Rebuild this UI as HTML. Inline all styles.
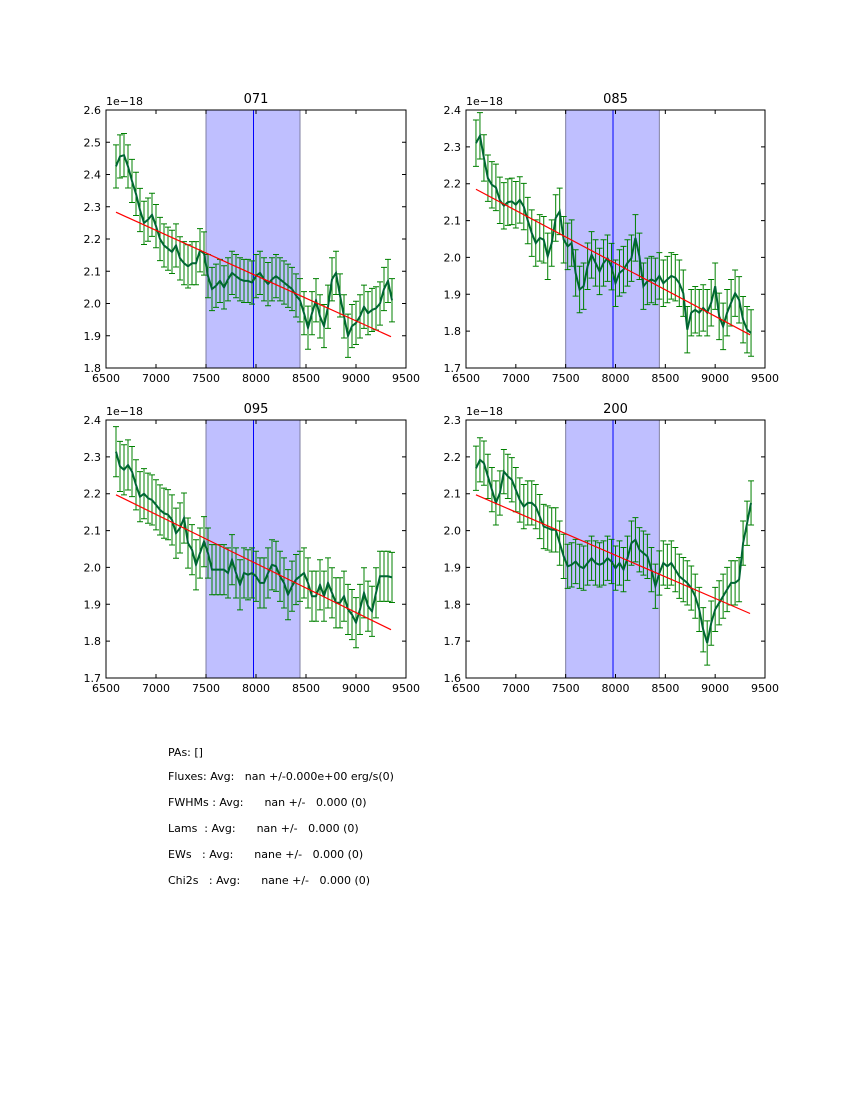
<!DOCTYPE html>
<html><head><meta charset="utf-8">
<style>
html,body{margin:0;padding:0;background:#fff;}
svg{display:block;font-family:"DejaVu Sans","Liberation Sans",sans-serif;}
.info{white-space:pre;font-size:11px;}
</style></head>
<body>
<svg id="fig" width="850" height="1100" viewBox="0 0 850 1100">
<rect width="850" height="1100" fill="#fff"/>
<g id="info">
<text class="info" x="168" y="756">PAs: []</text>
<text class="info" x="168" y="780">Fluxes: Avg:   nan +/-0.000e+00 erg/s(0)</text>
<text class="info" x="168" y="806">FWHMs : Avg:      nan +/-   0.000 (0)</text>
<text class="info" x="168" y="832">Lams  : Avg:      nan +/-   0.000 (0)</text>
<text class="info" x="168" y="858">EWs   : Avg:      nane +/-   0.000 (0)</text>
<text class="info" x="168" y="884">Chi2s   : Avg:      nane +/-   0.000 (0)</text>
</g>
</svg>
<script>
const lams = [];
for (let i = 0; i < 70; i++) lams.push(6600 + 40 * i);
const xTicks = [6500, 7000, 7500, 8000, 8500, 9000, 9500];
const titles = ["071", "085", "095", "200"];
const yMins = [1.8, 1.7, 1.7, 1.6];
const yMaxs = [2.6, 2.4, 2.4, 2.3];
const errs = [0.067, 0.063, 0.068, 0.06];
const fitStart = [2.283, 2.185, 2.197, 2.097];
const fitEnd = [1.897, 1.79, 1.831, 1.775];
const fitLams = [6600, 9350];
const bandLams = [7500, 8440];
const lineLam = 7975;
const flux071 = [2.425,2.456,2.46,2.425,2.38,2.34,2.29,2.25,2.26,2.275,2.24,2.2,2.18,2.17,2.16,2.18,2.14,2.125,2.115,2.125,2.125,2.165,2.155,2.085,2.045,2.055,2.07,2.05,2.075,2.095,2.085,2.075,2.07,2.07,2.065,2.085,2.095,2.075,2.06,2.075,2.085,2.075,2.065,2.055,2.045,2.025,2.01,1.97,1.925,1.97,2.01,1.96,1.93,1.99,2.075,2.095,2.025,1.96,1.9,1.93,1.94,1.96,1.99,1.97,1.98,1.985,2.0,2.045,2.07,2.01];
const flux085 = [2.31,2.33,2.27,2.215,2.197,2.19,2.155,2.14,2.15,2.152,2.143,2.156,2.138,2.1,2.066,2.039,2.053,2.048,2.003,2.039,2.107,2.125,2.048,2.03,2.039,1.958,1.913,1.922,1.976,2.007,1.985,1.962,1.985,1.998,1.975,1.93,1.958,1.967,1.985,1.998,2.053,2.003,1.922,1.935,1.94,1.935,1.95,1.93,1.94,1.95,1.945,1.93,1.903,1.804,1.85,1.858,1.85,1.863,1.85,1.877,1.922,1.84,1.813,1.85,1.877,1.903,1.885,1.831,1.804,1.795];
const flux095 = [2.314,2.274,2.265,2.278,2.26,2.224,2.192,2.2,2.188,2.183,2.17,2.156,2.147,2.143,2.129,2.093,2.107,2.134,2.066,2.048,2.007,2.039,2.07,2.039,1.994,1.994,1.994,1.994,1.985,2.021,1.985,1.953,1.985,1.98,1.985,1.976,1.958,1.958,1.985,2.007,2.003,1.976,1.958,1.926,1.949,1.967,1.976,1.985,1.958,1.922,1.922,1.953,1.922,1.958,1.931,1.904,1.904,1.922,1.886,1.872,1.85,1.886,1.931,1.895,1.881,1.931,1.976,1.976,1.976,1.973];
const flux200 = [2.169,2.192,2.183,2.147,2.111,2.075,2.102,2.16,2.147,2.138,2.111,2.083,2.065,2.075,2.075,2.065,2.038,2.011,2.007,2.002,2.002,1.966,1.93,1.903,1.907,1.916,1.903,1.898,1.912,1.925,1.912,1.907,1.912,1.925,1.916,1.898,1.912,1.894,1.925,1.966,1.975,1.948,1.939,1.93,1.894,1.849,1.885,1.912,1.903,1.912,1.894,1.876,1.867,1.858,1.844,1.822,1.786,1.731,1.695,1.749,1.786,1.804,1.822,1.84,1.858,1.858,1.867,1.966,2.02,2.075];
const fluxes = [flux071, flux085, flux095, flux200];

const NS = "http://www.w3.org/2000/svg";
const fig = document.getElementById("fig");
const boxes = [[106,110,406,368],[466,110,765,368],[106,420,406,678],[466,420,765,678]];
function mk(tag, attrs, parent) {
  const e = document.createElementNS(NS, tag);
  for (const k in attrs) e.setAttribute(k, attrs[k]);
  parent.appendChild(e);
  return e;
}
boxes.forEach((b, p) => {
  const [x0, y0, x1, y1] = b;
  const g = mk("g", {}, fig);
  
  
  const sx = v => x0 + (v - 6500) / 3000 * (x1 - x0);
  const sy = v => y1 - (v - yMins[p]) / (yMaxs[p] - yMins[p]) * (y1 - y0);
  const band = mk("rect", {x: sx(bandLams[0]), y: y0, width: sx(bandLams[1]) - sx(bandLams[0]), height: y1 - y0, fill: "#bfbfff", stroke: "#7f7fa0", "stroke-width": 1}, g);
  
  
  const vl = mk("line", {x1: sx(lineLam), x2: sx(lineLam), y1: y0, y2: y1, stroke: "#0000ff", "stroke-width": 1}, g);
  
  
  const data = fluxes[p];
  const eg = mk("g", {stroke: "#008000", "stroke-width": 1}, g);
  
  
  data.forEach((v, i) => {
    const x = sx(lams[i]), ya = sy(v + errs[p]), yb = sy(v - errs[p]);
    const l = mk("path", {d: `M${x},${ya}V${yb}M${x-3},${ya}H${x+3}M${x-3},${yb}H${x+3}`, fill: "none"}, eg);
    
    
  });
  const pts = data.map((v, i) => sx(lams[i]).toFixed(1) + "," + sy(v).toFixed(1)).join(" ");
  const pl = mk("polyline", {points: pts, fill: "none", stroke: "#006633", "stroke-width": 2}, g);
  
  
  const fl = mk("line", {x1: sx(fitLams[0]), y1: sy(fitStart[p]), x2: sx(fitLams[1]), y2: sy(fitEnd[p]), stroke: "#ff0000", "stroke-width": 1.2}, g);
  
  
  const fr = mk("rect", {x: x0, y: y0, width: x1 - x0, height: y1 - y0, fill: "none", stroke: "#000", "stroke-width": 1}, g);
  
  
  xTicks.forEach(t => {
    const x = sx(t);
    mk("path", {d: `M${x},${y1}v-4M${x},${y0}v4`, stroke: "#000"}, g);
    const tx = mk("text", {x: x, y: y1 + 14, "text-anchor": "middle", "font-size": 11}, g);
    tx.textContent = t;
    
    
  });
  const n = Math.round((yMaxs[p] - yMins[p]) * 10);
  for (let k = 0; k <= n; k++) {
    const v = yMins[p] + k / 10, y = sy(v);
    mk("path", {d: `M${x0},${y}h4M${x1},${y}h-4`, stroke: "#000"}, g);
    const ty = mk("text", {x: x0 - 5, y: y + 4, "text-anchor": "end", "font-size": 11}, g);
    ty.textContent = v.toFixed(1);
    
    
  }
  const off = mk("text", {x: x0, y: y0 - 5, "font-size": 11}, g);
  off.textContent = "1e\u221218";
  
  
  const tt = mk("text", {x: (x0 + x1) / 2, y: y0 - 7, "text-anchor": "middle", "font-size": 13}, g);
  tt.textContent = titles[p];
  
  
});
</script>
</body></html>
